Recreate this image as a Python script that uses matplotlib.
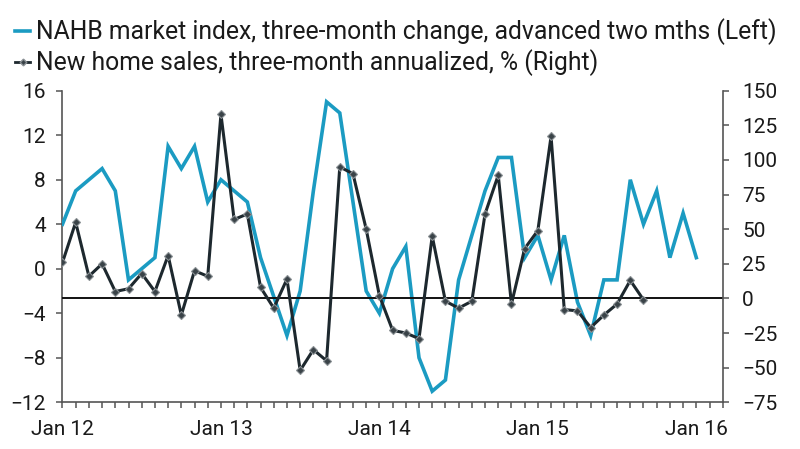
import matplotlib
matplotlib.use("Agg")
import matplotlib.pyplot as plt
from matplotlib.lines import Line2D
import numpy as np

plt.rcParams['font.family'] = ['Roboto', 'DejaVu Sans']

# Monthly data from Jan 2012
nahb = [4, 7, 8, 9, 7, -1, 0, 1, 11, 9, 11, 6,
        8, 7, 6, 1, -2.5, -6, -2, 7, 15, 14, 6, -2,
        -4, 0, 2, -8, -11, -10, -1, 3, 7, 10, 10, 1,
        3, -1, 3, -3, -6, -1, -1, 8, 4, 7, 1, 5,
        1]
sales = [26, 55, 16, 25, 5, 7, 18, 5, 31, -12, 20, 16,
         133, 57, 61, 8, -7, 14, -52, -37, -45, 95, 90, 50,
         2, -23, -25, -29, 45, -2, -7, -2, 61, 89, -4, 36,
         49, 117, -8, -9, -21, -12, -4, 13, -1]
year_labels = ["Jan 12", "Jan 13", "Jan 14", "Jan 15", "Jan 16"]
n_months_axis = 50

label_nahb = "NAHB market index, three-month change, advanced two mths (Left)"
label_sales = "New home sales, three-month annualized, % (Right)"

BLUE = "#1b9bc2"
DARK = "#1d282e"
SPINE = "#555555"
TXT = "#1a1a1a"

W, H = 800, 449
fig = plt.figure(figsize=(W / 100, H / 100), dpi=100)
ax = fig.add_axes([0.0781, 0.104, 0.8253, 0.694])
ax2 = ax.twinx()

x_n = np.arange(len(nahb))
x_s = np.arange(len(sales))

ax.plot(x_n, nahb, color=BLUE, lw=2.6, solid_joinstyle='miter', zorder=3)
ax2.axhline(0, color="#111111", lw=1.4, zorder=2)
ax2.plot(x_s, sales, color=DARK, lw=2.2, marker='D', markersize=3.8,
         markerfacecolor="#3a4348", markeredgecolor="#8a9094",
         markeredgewidth=0.8, zorder=4)

ax.set_xlim(0, n_months_axis)
ax.set_ylim(-12, 16)
ax2.set_ylim(-75, 150)
ax.set_yticks(np.arange(-12, 17, 4))
ax2.set_yticks(np.arange(-75, 151, 25))

ticks = np.arange(0, n_months_axis + 1)
ax.set_xticks(ticks)
labels = [''] * len(ticks)
for i, lab in enumerate(year_labels):
    labels[i * 12] = lab
ax.set_xticklabels(labels)

for a in (ax, ax2):
    a.spines['top'].set_visible(False)
    for s in a.spines.values():
        s.set_color(SPINE)
        s.set_linewidth(1.2)

ax.spines['right'].set_visible(False)
ax2.spines['left'].set_visible(False)
ax2.spines['bottom'].set_visible(False)

ax.tick_params(axis='y', direction='out', length=4, width=1.1, color=SPINE,
               labelsize=15, labelcolor=TXT, pad=8)
ax.tick_params(axis='x', direction='out', length=4, width=1.1, color=SPINE,
               labelsize=15, labelcolor=TXT, pad=9)
ax2.tick_params(axis='y', direction='out', length=4, width=1.1, color=SPINE,
                labelsize=15, labelcolor=TXT, pad=10)

# Legend (manual placement)
leg_fs = 17.8
for yc, lab, style in [(32, label_nahb, 'nahb'), (63, label_sales, 'sales')]:
    yf = 1 - yc / H
    if style == 'nahb':
        ln = Line2D([15 / W, 30 / W], [yf + 1 / H, yf + 1 / H], transform=fig.transFigure,
                    color=BLUE, lw=2.6)
    else:
        ln = Line2D([15 / W, 22.5 / W, 30 / W], [yf + 1 / H] * 3, transform=fig.transFigure,
                    color=DARK, lw=2.0, marker='D', markersize=3.4, markevery=[1],
                    markerfacecolor="#3a4348", markeredgecolor="#8a9094")
    fig.add_artist(ln)
    fig.text(36 / W, yf, lab, fontsize=leg_fs, color=TXT, va='center', ha='left')

fig.savefig("out.png", dpi=100)
